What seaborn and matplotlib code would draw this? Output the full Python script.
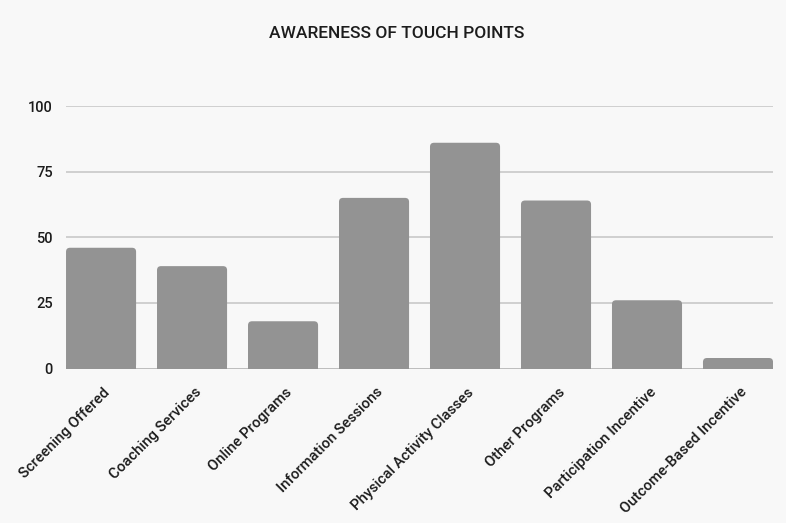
import matplotlib
matplotlib.use("Agg")
import matplotlib.pyplot as plt
from matplotlib.patches import FancyBboxPatch
from matplotlib.transforms import ScaledTranslation
import seaborn as sns
import pandas as pd

categories = [
    "Screening Offered",
    "Coaching Services",
    "Online Programs",
    "Information Sessions",
    "Physical Activity Classes",
    "Other Programs",
    "Participation Incentive",
    "Outcome-Based Incentive",
]
awareness = [46, 39, 18, 65, 86, 64, 26, 4]
y_ticks = [0, 25, 50, 75, 100]

df = pd.DataFrame({"touch_point": categories, "awareness": awareness})

sns.set_theme(style="white")
plt.rcParams["font.family"] = ["Roboto", "DejaVu Sans"]

BG = "#f8f8f8"
BAR = "#939393"
GRID = "#cccccc"
INK = "#1c1c1c"

fig = plt.figure(figsize=(7.86, 5.23), dpi=100, facecolor=BG)
ax = fig.add_axes([0.084, 0.2954, 0.8995, 0.5019])
ax.set_facecolor(BG)

sns.barplot(data=df, x="touch_point", y="awareness", color=BAR,
            width=0.77, saturation=1, ax=ax, zorder=3)

ax.set_xlim(-0.385, 7.385)
ax.set_ylim(0, 100)

# pixel size of one data unit along each axis, for the rounded corners
fig.canvas.draw()
bbox = ax.get_window_extent()
px_x = bbox.width / 7.77
px_y = bbox.height / 100.0
radius_px = 4.0

# swap the square bars for ones with softly rounded top corners
for p in list(ax.patches):
    x0, y0 = p.get_x(), p.get_y()
    w, h = p.get_width(), p.get_height()
    p.remove()
    ax.add_patch(FancyBboxPatch((x0, y0), w, h,
                                boxstyle=f"round,pad=0,rounding_size={radius_px / px_x}",
                                mutation_aspect=px_x / px_y,
                                facecolor=BAR, edgecolor="none", zorder=3))
    # keep the bottom edge square
    ax.add_patch(plt.Rectangle((x0, y0), w, min(h, radius_px / px_y),
                               facecolor=BAR, edgecolor="none", zorder=3))

ax.set_yticks(y_ticks)
ax.set_yticklabels([str(t) for t in y_ticks], fontsize=10.5, color=INK,
                   fontweight="medium")
ax.yaxis.grid(True, color=GRID, linewidth=1.3, zorder=0)
ax.tick_params(axis="y", length=0, pad=9.5)
ax.tick_params(axis="x", length=0, pad=12)
for s in ax.spines.values():
    s.set_visible(False)
ax.axhline(0, color="#bdbdbd", linewidth=1.3, zorder=2)

ax.set_xlabel("")
ax.set_ylabel("")
ax.set_xticks(range(len(categories)))
ax.set_xticklabels(categories, rotation=45, ha="right", rotation_mode="anchor",
                   fontsize=10.7, color=INK, fontweight="medium")
for lab in ax.get_xticklabels():
    lab.set_transform(lab.get_transform() +
                      ScaledTranslation(2 / 100, 0, fig.dpi_scale_trans))

fig.text(0.505, 0.935, "AWARENESS OF TOUCH POINTS", ha="center", va="center",
         fontsize=12.5, color=INK, fontweight="medium")

fig.savefig("out.png", dpi=100, facecolor=BG)
